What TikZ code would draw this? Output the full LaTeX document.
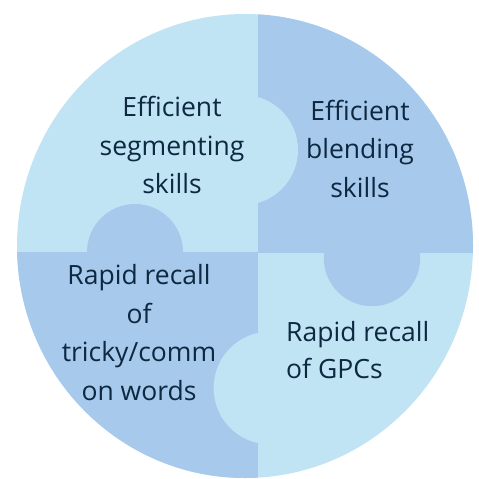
\documentclass[tikz,border=0pt]{standalone}
\usepackage{fontspec}
\setmainfont{Open Sans}
\definecolor{lightpc}{HTML}{C1E4F5}
\definecolor{darkpc}{HTML}{A6C9EC}
\definecolor{txt}{HTML}{0E2841}
\begin{document}
\begin{tikzpicture}[x=1pt,y=-1pt,
  lbl/.style={text=txt,font=\fontsize{26.5}{38.5}\selectfont,align=center,inner sep=0pt}]
\useasboundingbox (0,0) rectangle (479,479);
\begin{scope}
\clip (245,246) ellipse [x radius=228, y radius=232];
\fill[lightpc] (0,0) rectangle (479,479);
\fill[darkpc] (258,0) rectangle (479,253);
\fill[darkpc] (0,252) rectangle (258,479);
\fill[darkpc] (372,258) circle [radius=48.2];
\fill[darkpc] (135,252) circle [radius=48];
\fill[lightpc] (243,150) circle [radius=55];
\fill[lightpc] (270,388) circle [radius=56.4];
\end{scope}
\node[lbl,anchor=base] (seg) at (172,193.5) {Efficient\\segmenting\\skills};
\node[lbl,anchor=base] (ble) at (360,197) {Efficient\\blending\\skills};
\node[lbl,anchor=base] (tri) at (139,400) {Rapid recall\\of\\tricky/comm\\on words};
\node[lbl,anchor=base west,align=left,font=\fontsize{26.5}{37}\selectfont] (gpc) at (286,378.5) {Rapid recall\\of GPCs};
\end{tikzpicture}
\end{document}
